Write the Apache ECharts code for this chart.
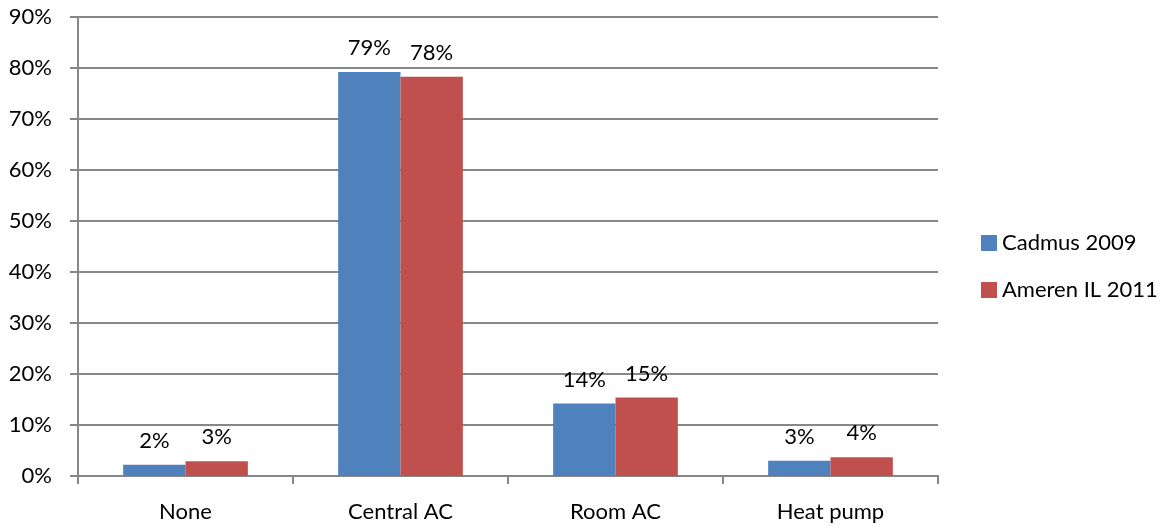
<!DOCTYPE html>
<html>
<head>
<meta charset="utf-8">
<script src="https://cdn.jsdelivr.net/npm/echarts@6/dist/echarts.min.js"></script>
<style>html,body{margin:0;padding:0;background:#fff}#c{width:1167px;height:525px}</style>
</head>
<body>
<div id="c"></div>
<script>
const categories = ["None", "Central AC", "Room AC", "Heat pump"];
const cadmus2009 = [0.022, 0.792, 0.142, 0.030];
const ameren2011 = [0.029, 0.783, 0.154, 0.037];
const seriesNames = ["Cadmus 2009", "Ameren IL 2011"];

const FONT = "Lato";
const chart = echarts.init(document.getElementById('c'), null, {renderer: 'canvas'});
const lbl = {
  show: true, position: 'top', distance: 13,
  formatter: p => Math.round(p.value * 100) + '%',
  color: '#000', fontFamily: FONT, fontSize: 22
};
chart.setOption({
  animation: false,
  textStyle: {fontFamily: FONT},
  grid: {left: 78, right: 229, top: 17, bottom: 49},
  legend: {
    orient: 'vertical', left: 976, top: 227,
    itemWidth: 16, itemHeight: 16, itemGap: 25,
    icon: 'rect',
    textStyle: {fontFamily: FONT, fontSize: 22, color: '#000', padding: [0,0,0,0]},
    data: seriesNames
  },
  xAxis: {
    type: 'category', data: categories,
    axisLine: {lineStyle: {color: '#878787', width: 2}},
    axisTick: {show: true, length: 8, lineStyle: {color: '#878787', width: 2}},
    axisLabel: {color: '#000', fontFamily: FONT, fontSize: 22, margin: 25}
  },
  yAxis: {
    type: 'value', min: 0, max: 0.9, interval: 0.1,
    axisLine: {show: true, lineStyle: {color: '#878787', width: 2}},
    axisTick: {show: true, length: 8, lineStyle: {color: '#878787', width: 2}},
    splitLine: {lineStyle: {color: '#878787', width: 2}},
    axisLabel: {color: '#000', fontFamily: FONT, fontSize: 22, margin: 26,
      formatter: v => Math.round(v * 100) + '%'}
  },
  series: [
    {name: seriesNames[0], type: 'bar', data: cadmus2009, barGap: '0%', barCategoryGap: '42%',
     itemStyle: {color: '#4F81BD'}, label: lbl},
    {name: seriesNames[1], type: 'bar', data: ameren2011, barGap: '0%', barCategoryGap: '42%',
     itemStyle: {color: '#C0504D'}, label: lbl}
  ]
});
</script>
</body>
</html>
